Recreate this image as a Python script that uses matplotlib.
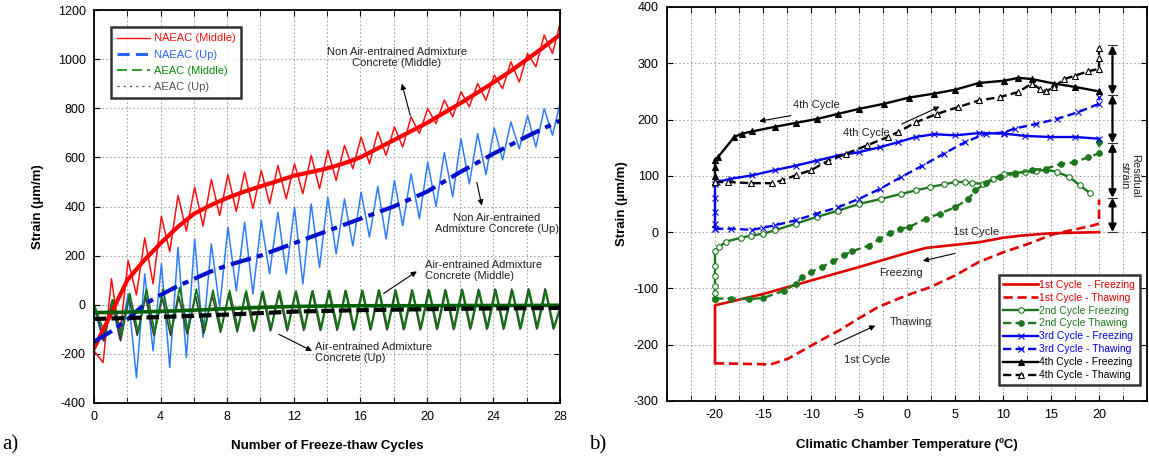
import numpy as np
import matplotlib as mpl
mpl.use('Agg')
import matplotlib.pyplot as plt
from matplotlib.lines import Line2D
from matplotlib.ticker import MultipleLocator

plt.rcParams['font.family'] = ['Liberation Sans', 'DejaVu Sans']
plt.rcParams['axes.unicode_minus'] = False

# ---------------- a) strain vs freeze-thaw cycles ----------------
# raw gauge readings, read at start, every trough/peak, and end
t_red_blue = np.concatenate([[0], np.arange(0.55, 27.6, 0.5), [28]])
t_green = np.concatenate([[0], np.arange(0.65, 27.7, 0.5), [28]])
t_gray = np.concatenate([[0], np.arange(0.60, 27.65, 0.5), [28]])

naeac_mid = [-188, -235, 106, -127, 180, 40, 272, 85, 360, 216, 445, 300, 479, 320,
             510, 363, 530, 380, 540, 392, 547, 411, 567, 431, 574, 452, 608, 472,
             629, 506, 649, 554, 683, 574, 704, 608, 724, 642, 765, 697, 798, 738,
             833, 765, 867, 806, 901, 833, 935, 880, 989, 907, 1023, 969, 1098, 1023, 1145]
naeac_up = [-10, -147, 10, -140, 44, -297, 126, -188, 167, -256, 234, -215, 268, -133,
            248, -10, 316, 57, 336, 44, 343, 126, 377, 126, 397, 85, 411, 152,
            438, 207, 431, 240, 458, 275, 482, 268, 506, 322, 533, 350, 580, 400,
            620, 440, 676, 492, 697, 530, 720, 590, 744, 635, 770, 642, 798, 690, 820]
aeac_mid = [3, -120, 20, -125, 46, -113, 64, -113, 64, -106, 71, -108, 64, -104,
            60, -102, 58, -100, 57, -101, 55, -99, 57, -100, 56, -98, 57, -99,
            58, -97, 56, -99, 57, -98, 58, -96, 57, -98, 56, -97, 58, -96,
            57, -97, 59, -95, 58, -96, 59, -95, 58, -96, 60, -94, 59, -95, -20]
aeac_up = [3, -147, 20, -147, 30, -125, 32, -126, 28, -125, 33, -120, 36, -116,
           40, -112, 45, -110, 48, -108, 50, -107, 52, -106, 53, -105, 55, -105,
           56, -104, 58, -104, 58, -103, 60, -103, 60, -102, 61, -102, 62, -101,
           62, -101, 63, -100, 63, -100, 64, -100, 64, -99, 65, -99, 65, -99, -10]

# fitted trends
red_tr_x = list(range(29))
red_trend = [-178, -40, 100, 180, 250, 315, 370, 405, 435, 460, 482, 503, 525, 540, 555,
             575, 600, 635, 670, 705, 740, 780, 820, 862, 905, 950, 998, 1048, 1100]
blue_tr_x = [0, 1, 2, 3, 4, 5, 6, 7, 8, 9, 10, 12, 14, 16, 18, 20, 22, 24, 26, 28]
blue_trend = [-150, -110, -60, 0, 40, 75, 105, 135, 160, 180, 200, 250, 300, 350, 400,
              460, 540, 615, 685, 750]
green_tr_x = [0, 2, 4, 6, 8, 10, 12, 14, 16, 18, 20, 22, 24, 26, 28]
green_trend = [-32, -30, -27, -22, -16, -11, -7, -5, -4, -4, -4, -3, -3, -3, -2]
black_tr_x = [0, 4, 8, 12, 16, 20, 24, 28]
black_trend = [-58, -50, -40, -28, -22, -18, -15, -13]

# ---------------- b) strain vs chamber temperature ----------------
c1f_x = [20, 15, 12, 10, 7.5, 2, 0, -5, -10, -15, -20, -20]
c1f_y = [0, -2, -6, -10, -18, -28, -37, -62, -86, -110, -130, -233]
c1t_x = [-20, -17, -14.2, -12.4, -9.6, -7, -5, -3, 0, 2.4, 5, 7.5, 10, 12.6, 15.2, 17, 19.4, 20, 20]
c1t_y = [-233, -234, -235, -225, -198, -174, -153, -133, -112, -98, -77, -53, -36, -21, -4, 3, 12, 15, 58]
c2f_x = [19.1, 18, 16.9, 15.6, 14.5, 13.4, 12.3, 11.2, 10.1, 9, 7.9, 6.8, 6, 5, 3.9, 2.4, 0.9,
         -0.6, -2.7, -5, -7.2, -9.4, -11.6, -13.8, -15, -16.2, -17.3, -18.9, -19.6, -20,
         -20, -20, -20, -20, -20]
c2f_y = [69, 83, 98, 107, 111, 108, 107, 105, 104, 95, 86, 87, 89, 89, 85, 80, 74,
         68, 59, 50, 38, 27, 15, 3, -3, -6, -10, -17, -27, -33, -60, -78, -95, -108, -118]
c2t_x = [-20, -18.3, -16.5, -15, -12.8, -11.6, -10.9, -10, -8.9, -7.7, -6.6, -5.7, -4, -2.9,
         -1.8, -0.7, 0.2, 2.0, 3.4, 5, 6.4, 7.1, 8.2, 9.7, 11.2, 13, 14.5, 16, 17.4, 18.9, 20, 20]
c2t_y = [-118, -118, -119, -117, -104, -92, -80, -71, -62, -52, -41, -34, -24, -12,
         -2, 6, 9, 24, 33, 44, 59, 74, 87, 98, 104, 110, 113, 121, 124, 133, 140, 160]
c3f_x = [20, 17.5, 14.9, 12.3, 10.1, 7.5, 5, 2.8, 0.9, -0.9, -2.8, -5, -7.2, -9.4, -11.6,
         -13.8, -16.1, -18.3, -19.8, -20, -20, -20, -20, -20]
c3f_y = [166, 169, 169, 171, 175, 176, 172, 174, 169, 160, 151, 142, 136, 127, 118,
         110, 101, 95, 89, 86, 60, 35, 15, 6]
c3t_x = [-20, -18.3, -16.1, -15, -13.8, -11.6, -9.4, -7.2, -5, -2.8, -0.6, 1.6, 3.8, 6.05,
         8.2, 10.1, 11.2, 13.4, 15.6, 17.8, 20, 20]
c3t_y = [6, 6, 4, 8, 12, 21, 33, 44, 59, 77, 98, 118, 139, 160,
         175, 177, 184, 192, 201, 213, 228, 240]
c4f_x = [20, 17.5, 15.3, 13, 11.6, 10.1, 7.5, 5, 2.8, 0.2, -2.4, -5, -7.2, -9.4, -11.6,
         -13.8, -16.1, -17.2, -18, -19.7, -20, -20, -20, -20]
c4f_y = [250, 258, 264, 272, 274, 269, 265, 253, 246, 239, 228, 219, 210, 201, 194,
         187, 179, 175, 169, 133, 129, 115, 100, 89]
c4t_x = [-20, -18.6, -16.3, -14.1, -13, -11.6, -10, -8.2, -6.4, -4.2, -2, -0.9, 0.9, 3.1,
         5.3, 7.5, 9.7, 11.6, 13, 13.8, 14.5, 15.3, 16.4, 17.5, 18.9, 20, 20, 20]
c4t_y = [89, 89, 87, 87, 92, 101, 110, 127, 139, 154, 169, 178, 195, 210,
         222, 234, 240, 249, 264, 255, 250, 258, 272, 278, 286, 290, 310, 328]
residual_levels = [0, 61, 158, 244, 332]
temp_ticks = [-20, -15, -10, -5, 0, 5, 10, 15, 20]

fig = plt.figure(figsize=(11.49, 4.66), dpi=100)
ax1 = fig.add_axes([0.0818, 0.1352, 0.4056, 0.8433])
ax2 = fig.add_axes([0.5805, 0.1395, 0.4178, 0.8455])

grid_kw = dict(color='#a8a8a8', linestyle=(0, (1.5, 2)), linewidth=0.8)

# raw lines
ax1.plot(t_red_blue, naeac_up, color='#2f7cff', lw=1.1)
ax1.plot(t_red_blue, naeac_mid, color='#ff1010', lw=1.1)
ax1.plot(t_gray, aeac_up, color='#3c3c3c', lw=1.2)
ax1.plot(t_green, aeac_mid, color='#0a7a0a', lw=1.2)
# trends
ax1.plot(red_tr_x, red_trend, color='#ff0000', lw=3.0, solid_capstyle='round')
ax1.plot(blue_tr_x, blue_trend, color='#0010cc', lw=3.0, linestyle=(0, (5, 1.5, 1.5, 1.5)))
ax1.plot(green_tr_x, green_trend, color='#006000', lw=2.6)
ax1.plot(black_tr_x, black_trend, color='#000000', lw=3.0, linestyle=(0, (3, 1.2)))

ax1.set_xlim(0, 28)
ax1.set_ylim(-400, 1200)
ax1.xaxis.set_major_locator(MultipleLocator(4))
ax1.xaxis.set_minor_locator(MultipleLocator(2))
ax1.yaxis.set_major_locator(MultipleLocator(200))
ax1.grid(True, which='both', axis='x', **grid_kw)
ax1.grid(True, which='major', axis='y', **grid_kw)
ax1.set_xlabel('Number of Freeze-thaw Cycles', fontsize=9.5, fontweight='bold', labelpad=12)
ax1.set_ylabel('Strain (µm/m)', fontsize=9.5, fontweight='bold', labelpad=10)

leg_handles = [
    Line2D([], [], color='#ff1010', lw=1.0),
    Line2D([], [], color='#2a64ff', lw=2.2, linestyle=(0, (4, 2))),
    Line2D([], [], color='#0a8a0a', lw=1.2, linestyle=(0, (6, 3))),
    Line2D([], [], color='#555555', lw=1.0, linestyle=(0, (1.5, 3))),
]
leg_labels = ['NAEAC (Middle)', 'NAEAC (Up)', 'AEAC (Middle)', 'AEAC (Up)']
leg1 = ax1.legend(leg_handles, leg_labels, loc='upper left', bbox_to_anchor=(0.036, 0.956),
                  fontsize=8, handlelength=3.0, handletextpad=0.3, labelspacing=0.55,
                  borderpad=0.55, frameon=True, fancybox=False, borderaxespad=0)
leg1.get_frame().set_edgecolor('black')
leg1.get_frame().set_linewidth(1.8)
for txt, col in zip(leg1.get_texts(), ['#ff1010', '#2a64ff', '#0a8a0a', '#555555']):
    txt.set_color(col)

arrow_kw = dict(arrowstyle='-|>', color='black', lw=0.8, mutation_scale=8, shrinkA=0, shrinkB=0)
note_kw = dict(fontsize=8, color='#222222', linespacing=1.15)

ax1.text(18.2, 1008, 'Non Air-entrained Admixture\nConcrete (Middle)', ha='center', va='center', **note_kw)
ax1.annotate('', xy=(18.5, 900), xytext=(19.0, 771), arrowprops=arrow_kw)
ax1.text(24.2, 331, 'Non Air-entrained\nAdmixture Concrete (Up)', ha='center', va='center', **note_kw)
ax1.annotate('', xy=(23.3, 404), xytext=(23.0, 499), arrowprops=arrow_kw)
ax1.text(19.9, 139, 'Air-entrained Admixture\nConcrete (Middle)', ha='left', va='center', **note_kw)
ax1.annotate('', xy=(19.4, 136), xytext=(17.4, 46), arrowprops=arrow_kw)
ax1.text(13.3, -196, 'Air-entrained Admixture\nConcrete (Up)', ha='left', va='center', **note_kw)
ax1.annotate('', xy=(13.1, -188), xytext=(11.1, -120), arrowprops=arrow_kw)

# ---------------- b) ----------------
red_c, green_c, blue_c, black_c = '#e00000', '#1d781d', '#0000ee', '#000000'
dash = (0, (3.5, 1.8))
mk = dict(markersize=4, markeredgewidth=0.8)
ax2.plot(c1f_x, c1f_y, color=red_c, lw=1.9, label='1st Cycle  - Freezing')
ax2.plot(c1t_x, c1t_y, color=red_c, lw=1.9, linestyle=dash, label='1st Cycle - Thawing')
ax2.plot(c2f_x, c2f_y, color=green_c, lw=1.7, marker='o', markerfacecolor='white', label='2nd Cycle Freezing', **mk)
ax2.plot(c2t_x, c2t_y, color=green_c, lw=1.7, linestyle=dash, marker='o', label='2nd Cycle Thawing', **mk)
ax2.plot(c3f_x, c3f_y, color=blue_c, lw=1.7, marker='x', label='3rd Cycle - Freezing', **mk)
ax2.plot(c3t_x, c3t_y, color=blue_c, lw=1.7, linestyle=dash, marker='x', label='3rd Cycle - Thawing', **mk)
ax2.plot(c4f_x, c4f_y, color=black_c, lw=1.7, marker='^', label='4th Cycle - Freezing', **mk)
ax2.plot(c4t_x, c4t_y, color=black_c, lw=1.7, linestyle=dash, marker='^', markerfacecolor='white',
         label='4th Cycle - Thawing', **mk)

ax2.set_xlim(-25, 25)
ax2.set_ylim(-300, 400)
ax2.set_xticks(temp_ticks)
ax2.xaxis.set_minor_locator(MultipleLocator(2.5))
ax2.yaxis.set_major_locator(MultipleLocator(100))
ax2.grid(True, which='both', axis='x', **grid_kw)
ax2.grid(True, which='major', axis='y', **grid_kw)
ax2.set_xlabel('Climatic Chamber Temperature (ºC)', fontsize=9.5, fontweight='bold', labelpad=12)
ax2.set_ylabel('Strain (µm/m)', fontsize=9.5, fontweight='bold', labelpad=4)

leg2 = ax2.legend(loc='lower right', bbox_to_anchor=(0.985, 0.041), fontsize=7.5,
                  handlelength=3.3, handletextpad=0.15, labelspacing=0.28, borderpad=0.45,
                  frameon=True, fancybox=False, borderaxespad=0)
leg2.get_frame().set_edgecolor('black')
leg2.get_frame().set_linewidth(1.8)
for txt, line in zip(leg2.get_texts(), leg2.get_lines()):
    txt.set_color(line.get_color())

ax2.text(-9.46, 225, '4th Cycle', ha='center', va='center', **note_kw)
ax2.annotate('', xy=(-15.4, 197), xytext=(-12.1, 207), arrowprops=arrow_kw)
ax2.text(-4.24, 177, '4th Cycle', ha='center', va='center', **note_kw)
ax2.annotate('', xy=(3.4, 223), xytext=(-0.55, 192), arrowprops=arrow_kw)
ax2.text(7.2, 0, '1st Cycle', ha='center', va='center', **note_kw)
ax2.text(-0.6, -73, 'Freezing', ha='center', va='center', **note_kw)
ax2.annotate('', xy=(1.65, -51), xytext=(4.95, -38), arrowprops=arrow_kw)
ax2.text(0.35, -160, 'Thawing', ha='center', va='center', **note_kw)
ax2.annotate('', xy=(-3.3, -166), xytext=(-7.6, -200), arrowprops=arrow_kw)
ax2.text(-4.2, -228, '1st Cycle', ha='center', va='center', **note_kw)

# residual strain bars
for lo, hi in zip(residual_levels[:-1], residual_levels[1:]):
    ax2.annotate('', xy=(21.4, hi), xytext=(21.4, lo),
                 arrowprops=dict(arrowstyle='<|-|>', color='black', lw=1.6,
                                 mutation_scale=11, shrinkA=0, shrinkB=0))
for lev in residual_levels:
    ax2.plot([20.9, 21.9], [lev, lev], color='#333333', lw=0.8)
ax2.text(23.2, 100, 'Residual\nstrain', rotation=-90, ha='center', va='center',
         fontsize=8, color='#222222', linespacing=1.0)

for ax in (ax1, ax2):
    ax.tick_params(which='both', direction='in', top=True, right=True, labelsize=9, pad=6)
    ax.tick_params(which='major', length=4)
    ax.tick_params(which='minor', length=4)
    for sp in ax.spines.values():
        sp.set_linewidth(1.3)

fig.text(0.002, 0.035, 'a)', fontsize=15, family=['Liberation Serif', 'DejaVu Serif'])
fig.text(0.513, 0.035, 'b)', fontsize=15, family=['Liberation Serif', 'DejaVu Serif'])

fig.savefig('out.png', dpi=100)
